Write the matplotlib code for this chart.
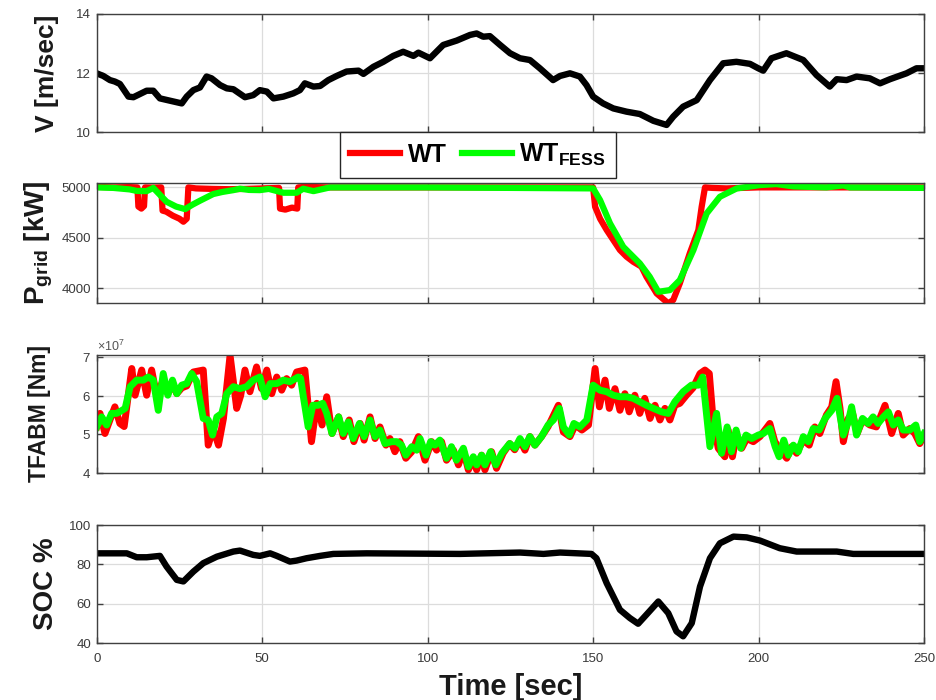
import matplotlib
matplotlib.use("Agg")
import matplotlib.pyplot as plt
from matplotlib.lines import Line2D
from matplotlib.ticker import ScalarFormatter

plt.rcParams['font.family'] = ['Liberation Sans', 'DejaVu Sans']
plt.rcParams['mathtext.fontset'] = 'custom'
plt.rcParams['mathtext.rm'] = 'Liberation Sans'
plt.rcParams['mathtext.bf'] = 'Liberation Sans:bold'
plt.rcParams['mathtext.it'] = 'Liberation Sans:italic'

# ---------------- data ----------------
# wind speed [m/s]
v_t = [0, 2.0, 4.0, 5.5, 7.0, 9.6, 11.1, 13.1, 15.1, 17.1, 19.1, 22.2, 25.7, 27.2, 29.2,
       31.2, 33.2, 34.7, 37.3, 39.3, 41.3, 44.8, 47.3, 49.3, 51.4, 53.4, 56.4, 59.4, 61.4,
       62.9, 65.5, 67.5, 70.0, 72.5, 75.5, 79.1, 80.6, 83.6, 86.6, 89.6, 92.6, 95.7, 97.2,
       100.7, 104.7, 108.8, 112.8, 114.8, 116.8, 118.8, 121.9, 124.9, 127.9, 130.9, 133.9,
       137.9, 140.0, 143.0, 146.0, 148.0, 150.0, 153.0, 156.1, 160.1, 164.1, 168.2, 172.2,
       174.2, 177.2, 181.3, 185.3, 189.3, 193.3, 197.4, 199.9, 201.4, 203.9, 208.4, 213.5,
       217.5, 221.5, 223.6, 226.6, 229.6, 233.6, 236.7, 239.7, 244.7, 247.7, 250.0]
v_val = [11.99, 11.90, 11.76, 11.71, 11.63, 11.20, 11.18, 11.29, 11.40, 11.40, 11.14, 11.06,
         10.97, 11.20, 11.42, 11.51, 11.88, 11.82, 11.59, 11.48, 11.45, 11.18, 11.25, 11.42,
         11.37, 11.14, 11.20, 11.31, 11.42, 11.65, 11.54, 11.56, 11.76, 11.90, 12.05, 12.08,
         11.97, 12.21, 12.38, 12.58, 12.72, 12.58, 12.69, 12.50, 12.95, 13.10, 13.29, 13.34,
         13.23, 13.25, 12.95, 12.67, 12.50, 12.44, 12.16, 11.76, 11.90, 11.99, 11.88, 11.59,
         11.20, 10.97, 10.80, 10.69, 10.61, 10.38, 10.24, 10.52, 10.86, 11.08, 11.76, 12.33,
         12.38, 12.31, 12.16, 12.08, 12.50, 12.67, 12.44, 11.93, 11.54, 11.79, 11.76, 11.88,
         11.82, 11.65, 11.79, 11.99, 12.16, 12.16]

# grid power [kW]
p_wt_t = [0, 5, 10, 12.3, 12.6, 13.5, 14.3, 14.6, 17, 19.5, 19.9, 21, 23, 25, 26.2, 27.2,
          27.7, 30, 35, 40, 45, 50, 55.1, 55.4, 57, 59, 60.6, 60.9, 63, 70, 100, 150.0,
          150.6, 152.1, 154.1, 158.1, 160.1, 162.1, 164.6, 166.1, 169.2, 172.7, 174.2,
          176.2, 179.2, 181.8, 182.8, 183.8, 186, 190.3, 200, 250]
p_wt = [5005, 5000, 5003, 5000, 4810, 4790, 4815, 5000, 4998, 5000, 4770, 4760, 4720,
        4690, 4660, 4690, 5000, 4990, 4985, 4982, 4985, 4990, 4995, 4790, 4780, 4800,
        4790, 5000, 5005, 5000, 5000, 5000, 4808, 4690, 4578, 4380, 4314, 4264, 4215,
        4116, 3950, 3852, 3885, 4050, 4347, 4578, 4809, 5000, 4995, 4990, 5000, 5000]
p_fess_t = [0, 5, 10, 12.1, 15.1, 17.1, 19, 21.1, 24, 26.7, 29, 31.2, 35.2, 38, 41.3, 43.3,
            46, 49.3, 52, 56.4, 60.4, 62.4, 65.5, 70.5, 100, 150.0, 152.1, 155.1, 159.1,
            164.1, 167.1, 169.7, 173.2, 176.2, 180.3, 184.3, 188.3, 193.4, 200.4, 205.4,
            210.5, 220.5, 225.6, 227.6, 250]
p_fess = [5000, 4995, 4980, 4965, 4963, 4995, 4930, 4858, 4810, 4785, 4830, 4868, 4934,
          4955, 4973, 4987, 4975, 4973, 4985, 4947, 4947, 4987, 4963, 5000, 5000, 4990,
          4874, 4644, 4412, 4248, 4115, 3966, 3983, 4082, 4379, 4742, 4907, 4990, 5023,
          5033, 5010, 5000, 5020, 5000, 4995]

# tower fore-aft bending moment [x1e7 Nm]
tq_wt_t = [0, 1, 2.5, 4, 5.5, 7, 8.3, 10.6, 11.6, 13.6, 15.1, 16.6, 17.6, 18.6, 20.1, 21.5,
           22.9, 24.2, 25.7, 27.2, 29.2, 32.2, 33.7, 35.2, 36.8, 38.3, 40.3, 41.3, 42.3,
           43.5, 44.8, 46.3, 48.3, 49.8, 51.4, 52.9, 54.4, 55.9, 57.4, 58.9, 60.4, 62.9,
           64.9, 66.5, 68.1, 69.5, 71.1, 73.1, 74.5, 76.3, 77.7, 79.6, 80.8, 82.6, 84.1,
           85.6, 87.4, 88.6, 90.1, 91.6, 93.4, 95.2, 97.2, 99.2, 101.2, 102.7, 104.2, 105.7,
           107.8, 109.3, 110.8, 112.3, 113.8, 114.8, 116.3, 117.3, 119.3, 120.8, 122.8,
           124.8, 126.3, 127.9, 129.4, 130.9, 132.4, 134.4, 136.4, 139.5, 141, 143, 144.6,
           146.6, 148.6, 150.6, 151.9, 153.6, 154.9, 156.6, 158.1, 159.6, 160.9, 162.6,
           164.1, 165.6, 167.2, 168.7, 170.2, 171.7, 173.2, 174.7, 176.2, 178.2, 180.2,
           182.3, 183.8, 185.1, 186.3, 187.8, 189.8, 190.8, 192.1, 193.3, 194.9, 196.4,
           198.4, 200.4, 203.4, 204.9, 206.9, 208.5, 210, 211.5, 213.5, 215.3, 217, 218.5,
           220.5, 222.1, 223.4, 224.6, 225.6, 227.1, 228.4, 229.8, 231.4, 233.6, 235.6,
           238.2, 240.2, 242.2, 243.7, 245.7, 247.2, 248.7, 250]
tq_wt = [5.19, 5.54, 5.02, 5.37, 5.71, 5.28, 5.20, 6.70, 6.01, 6.66, 6.01, 6.66, 6.23,
         6.10, 6.40, 6.05, 6.30, 6.05, 6.20, 6.25, 6.61, 6.66, 4.72, 5.15, 4.72, 5.41, 7.04,
         6.36, 5.67, 6.00, 6.66, 6.10, 6.74, 6.18, 6.66, 6.05, 6.48, 6.14, 6.44, 6.27, 6.61,
         6.66, 4.81, 5.80, 5.24, 5.97, 5.02, 5.45, 4.94, 5.37, 4.81, 5.28, 4.85, 5.45, 4.89,
         5.19, 4.72, 4.89, 4.55, 4.81, 4.38, 4.55, 4.94, 4.33, 4.81, 4.59, 4.81, 4.33, 4.59,
         4.21, 4.59, 4.08, 4.38, 4.08, 4.46, 4.08, 4.55, 4.12, 4.51, 4.76, 4.60, 4.85, 4.59,
         4.94, 4.72, 4.94, 5.20, 5.75, 5.06, 4.94, 5.24, 5.11, 5.24, 6.70, 5.71, 6.40, 5.67,
         6.18, 5.62, 6.05, 5.58, 6.01, 5.54, 5.93, 5.41, 5.75, 5.37, 5.67, 5.37, 5.75, 5.80,
         6.01, 6.20, 6.57, 6.66, 6.57, 5.32, 4.64, 4.42, 5.11, 4.42, 4.98, 4.64, 4.89, 4.81,
         4.94, 5.28, 4.81, 4.55, 4.38, 4.68, 4.51, 4.85, 4.72, 5.19, 5.02, 5.50, 5.71, 6.36,
         5.67, 4.81, 5.41, 5.54, 5.02, 5.37, 5.24, 5.19, 5.75, 5.02, 5.54, 4.98, 5.15, 5.02,
         4.76, 4.98]
tq_fess_t = [0, 1.5, 3, 4.5, 6, 7.3, 8.6, 10.1, 12.1, 14.1, 15.6, 17.1, 18.6, 20.1, 21.5,
             22.9, 24.2, 25.7, 27.2, 28.7, 30.2, 32.2, 33.7, 35.0, 36.3, 37.8, 39.3, 41.3,
             43.3, 45.3, 47.3, 49.3, 50.9, 52.4, 54.4, 56.4, 58.4, 60.9, 61.6, 62.4, 63.9,
             65.3, 66.9, 68.3, 69.5, 71.1, 73.1, 74.5, 76, 77.5, 79.4, 80.8, 82.6, 84.1, 85.6,
             87.1, 89.1, 90.6, 92.1, 93.4, 95.2, 96.7, 97.7, 99.5, 100.9, 102.2, 103.7, 105.7,
             107.2, 108.7, 110.8, 112.3, 113.8, 114.8, 116.3, 117.3, 119.0, 120.6, 122.4,
             124.8, 126.4, 127.9, 129.4, 130.9, 132.4, 134.4, 136.4, 138.0, 139.8, 141,
             142.8, 144.2, 146, 148.1, 150.0, 152.1, 154.1, 156.1, 158.1, 160.1, 162.1, 164.1,
             166.1, 168.2, 170.7, 172.7, 174.7, 177.2, 179.7, 181.8, 183.1, 184.3, 185.3,
             187.3, 188.8, 190.5, 191.8, 193.2, 194.6, 196.2, 197.9, 199.9, 201.4, 203.4, 205,
             206.2, 207.6, 209, 210.5, 212, 213.5, 215, 216.5, 218.3, 220.1, 222.1, 223.7,
             225.6, 227.1, 228.1, 229.6, 231.4, 233.1, 234.6, 236.1, 237.7, 239.2, 240.7,
             242.2, 243.7, 245.7, 247.5, 248.7, 250]
tq_fess = [5.19, 5.45, 5.24, 5.54, 5.54, 5.60, 5.67, 6.23, 6.40, 6.40, 6.48, 6.40, 5.62,
           6.57, 6.01, 6.40, 6.05, 6.27, 6.31, 6.57, 6.36, 5.41, 5.37, 4.98, 5.45, 5.54, 6.05,
           6.23, 6.18, 6.23, 6.40, 6.48, 5.97, 6.31, 6.31, 6.40, 6.36, 6.48, 6.45, 6.00, 5.19,
           5.75, 5.75, 5.80, 5.54, 5.02, 5.45, 5.02, 5.32, 4.89, 5.28, 4.94, 5.37, 4.94, 5.11,
           4.76, 4.81, 4.81, 4.72, 4.46, 4.68, 4.59, 4.89, 4.46, 4.81, 4.72, 4.85, 4.38, 4.68,
           4.33, 4.64, 4.16, 4.42, 4.21, 4.46, 4.21, 4.55, 4.21, 4.51, 4.76, 4.64, 4.89, 4.68,
           4.94, 4.72, 4.94, 5.24, 5.37, 5.67, 5.19, 4.98, 5.28, 5.19, 5.37, 6.27, 6.14, 6.10,
           6.01, 5.97, 5.97, 5.93, 5.84, 5.75, 5.67, 5.58, 5.54, 5.84, 6.10, 6.27, 6.27, 6.48,
           5.50, 4.68, 5.54, 4.51, 5.19, 4.55, 5.11, 4.64, 4.98, 4.89, 4.98, 5.02, 5.15, 4.68,
           4.42, 4.85, 4.46, 4.72, 4.55, 4.94, 4.81, 5.15, 5.11, 5.41, 5.62, 5.93, 4.98, 5.32,
           5.71, 4.98, 5.41, 5.28, 5.45, 5.28, 5.45, 5.58, 5.24, 5.37, 5.11, 5.11, 5.24, 4.81,
           5.02]

# flywheel state of charge [%]
soc_t = [0, 9.1, 12.1, 15.1, 19.1, 21.1, 24.2, 26.2, 29.2, 32.2, 36.3, 41.3, 43.3, 47.3,
         49.3, 52.4, 54.4, 58.4, 60.4, 63.4, 67.5, 71.5, 81.6, 109.8, 127.9, 135.0, 140.0,
         149.5, 151.0, 154.1, 158.1, 161.1, 163.6, 166.1, 169.7, 172.7, 175.2, 177.2, 179.8,
         182.3, 185.3, 188.3, 192.4, 196.4, 200.4, 206.4, 211.5, 223.6, 228.6, 250.0]
soc_val = [85.6, 85.6, 83.6, 83.6, 84.3, 78.9, 72.1, 71.3, 76.3, 80.6, 83.9, 86.5, 87.0,
           84.8, 84.3, 85.6, 84.3, 81.4, 81.9, 83.1, 84.3, 85.3, 85.6, 85.3, 86.0, 85.3,
           86.0, 85.3, 83.1, 70.4, 56.9, 52.7, 49.8, 54.4, 61.1, 55.2, 45.9, 43.4, 50.1,
           68.7, 83.1, 90.7, 94.1, 93.7, 92.1, 88.2, 86.5, 86.5, 85.3, 85.3]

x_ticks = [0, 50, 100, 150, 200, 250]

# ---------------- figure ----------------
RED = '#ff0000'
GREEN = '#00ff00'
AX_COL = '#404040'
TICK_COL = '#3a3a3a'

fig = plt.figure(figsize=(9.37, 7.0), dpi=100)
left, width = 0.1032, 0.883
rects = [
    (left, 0.8114, width, 0.1686),
    (left, 0.5671, width, 0.1714),
    (left, 0.3243, width, 0.1686),
    (left, 0.0814, width, 0.1686),
]
axes = [fig.add_axes(r) for r in rects]

for i, ax in enumerate(axes):
    ax.set_xlim(0, 250)
    ax.set_xticks(x_ticks)
    ax.grid(True, color='#dcdcdc', linewidth=0.9)
    ax.set_axisbelow(True)
    for s in ax.spines.values():
        s.set_color(AX_COL)
        s.set_linewidth(1.0)
    ax.tick_params(direction='in', top=True, right=True, length=4, width=1.0,
                   color=AX_COL, labelcolor=TICK_COL, labelsize=9.5, pad=4)
    ax.tick_params(axis='x', pad=7)
    if i < 3:
        ax.tick_params(labelbottom=False)

# wind speed
ax = axes[0]
ax.plot(v_t, v_val, color='black', linewidth=4.6, solid_joinstyle='round',
        solid_capstyle='round')
ax.set_ylim(10, 14)
ax.set_yticks([10, 12, 14])
ax.set_ylabel('V [m/sec]', fontsize=19, fontweight='bold', color='#1a1a1a')
ax.yaxis.set_label_coords(-0.045, 0.5)

# grid power
ax = axes[1]
ax.plot(p_wt_t, p_wt, color=RED, linewidth=4.5, solid_joinstyle='round')
ax.plot(p_fess_t, p_fess, color=GREEN, linewidth=4.5, solid_joinstyle='round')
ax.set_ylim(3855, 5043)
ax.set_yticks([4000, 4500, 5000])
ax.set_ylabel(r'$\mathbf{P_{grid}}$ [kW]', fontsize=20, fontweight='bold', color='#1a1a1a')
ax.yaxis.set_label_coords(-0.05, 0.5)

# bending moment
ax = axes[2]
ax.plot(tq_wt_t, [v * 1e7 for v in tq_wt], color=RED, linewidth=5.0,
        solid_joinstyle='round')
ax.plot(tq_fess_t, [v * 1e7 for v in tq_fess], color=GREEN, linewidth=5.0,
        solid_joinstyle='round')
ax.set_ylim(4e7, 7.05e7)
ax.set_yticks([4e7, 5e7, 6e7, 7e7])
fmt = ScalarFormatter(useMathText=True)
fmt.set_powerlimits((0, 0))
ax.yaxis.set_major_formatter(fmt)
ax.yaxis.get_offset_text().set_fontsize(9)
ax.yaxis.get_offset_text().set_color('#555555')
ax.set_ylabel('TFABM [Nm]', fontsize=16.5, fontweight='bold', color='#1a1a1a')
ax.yaxis.set_label_coords(-0.055, 0.5)

# state of charge
ax = axes[3]
ax.plot(soc_t, soc_val, color='black', linewidth=4.6, solid_joinstyle='round')
ax.set_ylim(40, 100)
ax.set_yticks([40, 60, 80, 100])
ax.set_ylabel('SOC %', fontsize=20, fontweight='bold', color='#1a1a1a')
ax.yaxis.set_label_coords(-0.045, 0.5)
ax.set_xlabel('Time [sec]', fontsize=21, fontweight='bold', color='#1a1a1a', labelpad=6)

# shared legend between the first two panels
handles = [Line2D([], [], color=RED, linewidth=4.5),
           Line2D([], [], color=GREEN, linewidth=4.5)]
leg = fig.legend(handles, ['WT', r'WT$_{\mathbf{FESS}}$'], loc='center',
                 bbox_to_anchor=(478 / 937, 1 - 155 / 700), ncol=2, frameon=True,
                 fancybox=False, edgecolor='#262626', framealpha=1.0,
                 handlelength=2.0, handletextpad=0.3, columnspacing=0.6,
                 borderpad=0.4, borderaxespad=0,
                 prop={'weight': 'bold', 'size': 18})
leg.get_frame().set_linewidth(1.0)

fig.savefig('out.png', dpi=100)
